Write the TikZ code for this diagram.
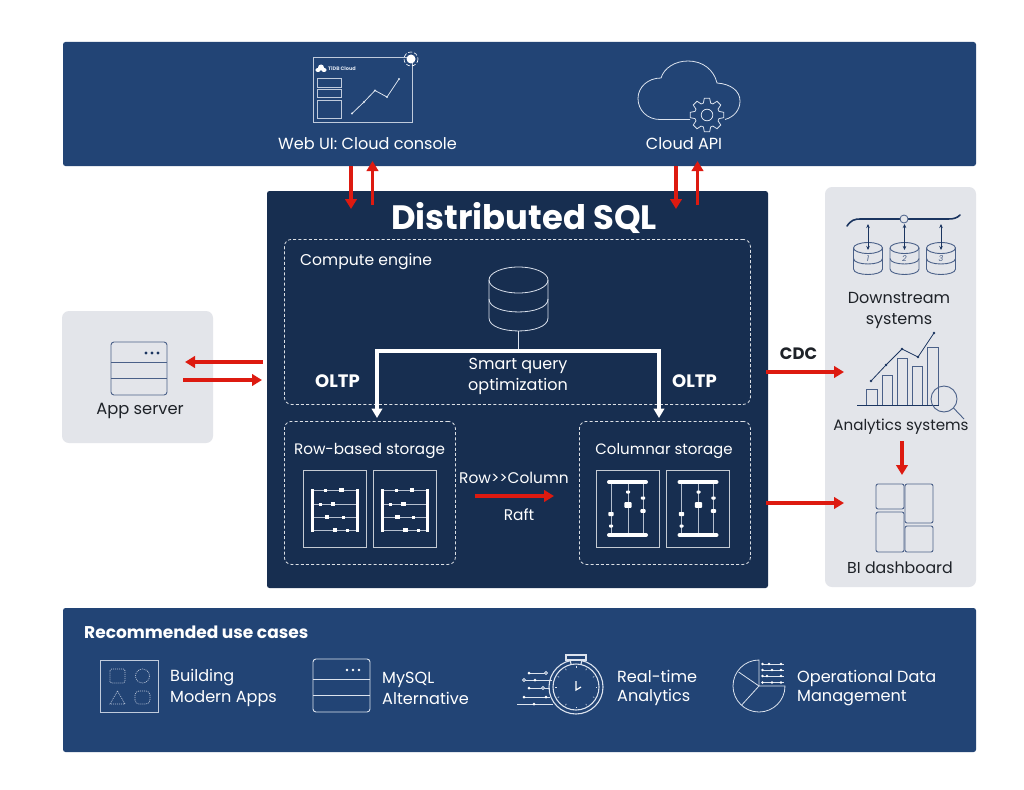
\documentclass[tikz,border=0pt]{standalone}
\usepackage{fontspec}
\setmainfont{Poppins}
\usetikzlibrary{arrows.meta}
\definecolor{band}{HTML}{224475}
\definecolor{deep}{HTML}{172E50}
\definecolor{pale}{HTML}{E3E5EA}
\definecolor{redarrow}{HTML}{DD1A10}
\definecolor{iconlight}{HTML}{DCE3EE}
\definecolor{icondark}{HTML}{4A6088}
\definecolor{inknavy}{HTML}{1B3560}
\definecolor{ink}{HTML}{1E2228}
\newcommand{\fs}[1]{\fontsize{#1}{#1}\selectfont}
\newcommand{\cylinder}[6]{% cx, cy, rx, ry, section, style
  \draw[#6] (#1,#2) ellipse [x radius=#3, y radius=#4];
  \draw[#6] ({#1-#3},#2) -- ({#1-#3},{#2+2*#5}) .. controls ({#1-#3},{#2+2*#5+1.33*#4}) and ({#1+#3},{#2+2*#5+1.33*#4}) .. ({#1+#3},{#2+2*#5}) -- ({#1+#3},#2);
  \draw[#6] ({#1-#3},{#2+#5}) .. controls ({#1-#3},{#2+#5+1.33*#4}) and ({#1+#3},{#2+#5+1.33*#4}) .. ({#1+#3},{#2+#5});
}
\newcommand{\serverbox}[5]{% x1,y1,x2,y2,style
  \draw[#5, rounded corners=3] (#1,#2) rectangle (#3,#4);
  \draw[#5] (#1,{#2+(#4-#2)*0.38}) -- (#3,{#2+(#4-#2)*0.38});
  \draw[#5] (#1,{#2+(#4-#2)*0.69}) -- (#3,{#2+(#4-#2)*0.69});
}
\tikzset{
  x=1pt,y=-1pt,
  panel/.style={anchor=north west,inner sep=0,outer sep=0,rounded corners=2.5,draw=none},
  grayp/.style={panel,fill=pale,rounded corners=7},
  dashbox/.style={anchor=north west,inner sep=0,draw=white!85!deep,line width=.8,rounded corners=7,dash pattern=on 3 off 2.2},
  card/.style={anchor=north west,inner sep=0,draw=white!75!deep,line width=1},
  redline/.style={draw=redarrow,line width=3.6,-{Triangle[length=10,width=11.5]}},
  whiteline/.style={draw=white,line width=3.6,-{Triangle[length=9.5,width=10.5]}},
  lt/.style={draw=iconlight,line width=.8},
  dk/.style={draw=icondark,line width=.9},
  lb/.style={inner sep=0,text=white,font=\fs{16.1},align=center},
  lbd/.style={inner sep=0,text=ink,font=\fs{16},align=center},
  lbl/.style={lb,anchor=west,align=left},
}
\begin{document}
\begin{tikzpicture}
\useasboundingbox (0,0) rectangle (1024,789);
\fill[white] (0,0) rectangle (1024,789);
% panels
\node[panel,fill=band,minimum width=913,minimum height=124] (top) at (63,42) {};
\node[panel,fill=band,minimum width=913,minimum height=144] (bottom) at (63,608) {};
\node[panel,fill=deep,minimum width=501,minimum height=397] (dsql) at (267,191) {};
\node[grayp,minimum width=151,minimum height=400] (right) at (825,187) {};
\node[grayp,minimum width=151,minimum height=132] (left) at (62,311) {};
\node[dashbox,minimum width=466,minimum height=165] (compute) at (284,239) {};
\node[dashbox,minimum width=171,minimum height=143] (rowb) at (284,421) {};
\node[dashbox,minimum width=171,minimum height=143] (colb) at (579,421) {};
\foreach \n/\x in {ra/303,rb/373,ca/596,cb/666}
  \node[card,minimum width=63,minimum height=77] (\n) at (\x,470) {};

% top labels
\node[lb] (weblabel) at (367.5,143.5) {Web UI: Cloud console};
\node[lb] (apilabel) at (684,143.5) {Cloud API};
% web console icon
\draw[draw=iconlight!85!band,line width=.9] (313,57) rectangle (412,122);
\foreach \y/\yy in {78/87,89/97.5,100/118}
  \draw[draw=iconlight!85!band,line width=.9] (317,\y) rectangle (341.5,\yy);
\fill[white] (318,70) ellipse [x radius=2.6,y radius=2] (324,70) ellipse [x radius=2.6,y radius=2] (321,67.5) circle (3);
\node[inner sep=0,text=iconlight,font=\fs{5}\bfseries,anchor=west] (tidb) at (328,68.5) {TiDB Cloud};
\draw[lt] (352,113.5) -- (364,102) -- (375,90.5) -- (387,97) -- (399,79);
\foreach \p in {(352,113.5),(364,102),(375,90.5),(387,97),(399,79)}
  \fill[iconlight] \p circle (1.2);
\fill[white] (411,59) circle (4.5);
\draw[white,line width=.6,dash pattern=on 4 off 2] (411,59) circle (7);
% cloud icon
\draw[lt] (690,119.5) -- (660,119.5) .. controls (647,119.5) and (638,110) .. (638,98.5) .. controls (638,87) and (648,78) .. (661,78) .. controls (664,68) and (675,61) .. (688,61) .. controls (703,61) and (714,70) .. (717,83) .. controls (731,84) and (740,91) .. (740,101) .. controls (740,110) and (734,117) .. (725,119.5);
\draw[lt,fill=band] (707,115) ++(0:0)
  \foreach \a in {0,45,...,315} { ({707+12.5*cos(\a-17)},{115+12.5*sin(\a-17)}) -- ({707+17*cos(\a-9)},{115+17*sin(\a-9)}) -- ({707+17*cos(\a+9)},{115+17*sin(\a+9)}) -- ({707+12.5*cos(\a+17)},{115+12.5*sin(\a+17)}) -- ({707+12.5*cos(\a+28)},{115+12.5*sin(\a+28)}) };
\draw[lt] (707,115) circle (5.8);

% title
\node[inner sep=0,text=white,font=\fs{33.8}\bfseries] (title) at (524,217.5) {Distributed SQL};
\node[lb,anchor=west,font=\fs{15.6}] (computelabel) at (300,262) {Compute engine};
% database
\cylinder{518.5}{280}{29.5}{13}{19}{draw=iconlight,line width=.8}
\coordinate (dbbase) at (518.5,331);
\coordinate (split) at (518.5,351);
\draw[draw=iconlight,line width=.8] (dbbase) -- (split);
\coordinate (wl) at (377,351);
\coordinate (wr) at (659,351);
\coordinate (rowin) at (377,418);
\coordinate (colin) at (659,418);
\draw[whiteline] (split) -- (wl) -- (rowin);
\draw[whiteline] (split) -- (wr) -- (colin);
\node[lb,font=\fs{16}] (smart) at (518,376.5) {Smart query\\[3.5pt]optimization};
\node[lb,font=\fs{18}\bfseries] (oltpa) at (337.5,381.5) {OLTP};
\node[lb,font=\fs{18}\bfseries] (oltpb) at (694.5,381.5) {OLTP};
% storage
\node[lb,font=\fs{15.2}] (rowlabel) at (369.5,451) {Row-based storage};
\node[lb,font=\fs{15}] (collabel) at (664,451) {Columnar storage};
\node[lb,font=\fs{15.4}] (r2c) at (514,478) {Row>{}>Column};
\node[lb,font=\fs{15.4}] (raft) at (519,515) {Raft};
% abacus icons
\foreach \dx in {0,70.5}{
 \begin{scope}[shift={(\dx,0)}]
  \foreach \y in {490,504,517,530} \draw[draw=iconlight!80!deep,line width=.9] (312,\y) -- (357,\y);
  \draw[white,line width=3] (312,489) -- (312,532);
  \draw[white,line width=3] (357,489) -- (357,532);
  \foreach \x/\y/\r in {325.5/490/1.5,341.5/490/2.4,320/504/1.5,333/504/2.4,327/517/2.4,343/517/1.5,335/530/2.4,347.5/530/1.5}
    \fill[white] ({\x-\r},{\y-\r}) rectangle ({\x+\r},{\y+\r});
 \end{scope}}
\foreach \dx in {0,70.5}{
 \begin{scope}[shift={(\dx,0)}]
  \foreach \x in {611,628,643} \draw[draw=iconlight!80!deep,line width=.9] (\x,482) -- (\x,535);
  \draw[white,line width=4,line cap=round] (609,482) -- (646,482);
  \draw[white,line width=4,line cap=round] (609,535) -- (646,535);
  \foreach \x/\y/\r/\s in {611/514/2.6/2,611/526/2/1.5,628/492/2/1.5,628/505/3.6/2.8,643/498/2.2/1.5,643/511/2.6/1.8}
    \fill[white,rounded corners=.8] ({\x-\r},{\y-\s}) rectangle ({\x+\r},{\y+\s});
 \end{scope}}

% app server
\serverbox{111}{342}{167}{395}{dk}
\foreach \x in {146,152,158} \fill[inknavy] (\x,353) circle (1.6);
\node[lbd,font=\fs{16.3}] (applabel) at (140,410.5) {App server};

% downstream
\draw[draw=inknavy,line width=1.6,line cap=round] (847,226) .. controls (851,220) and (855,219) .. (860,219) -- (948,219) .. controls (954,219) and (957,218) .. (960,215);
\fill[pale] (904,219) circle (4);
\draw[draw=icondark,line width=.8] (904,219) circle (4);
\foreach \cx/\n in {868/1,904.5/2,941/3}{
  \cylinder{\cx}{248}{14.5}{5.5}{10.5}{dk}
  \draw[draw=inknavy,line width=.7,{Stealth[length=4,width=3.5]}-{Stealth[length=4,width=3.5]}] (\cx,224) -- (\cx,250);
  \node[inner sep=0,text=icondark,font=\fs{8}\itshape] at (\cx,259) {\n};
}
\node[lbd,font=\fs{16}] (dslabel) at (899,310.5) {Downstream\\[4.5pt]systems};
% analytics
\foreach \a/\b/\t in {866/877/389,882/892/375,897/907/358,912/922/366,927/938/347}
  \draw[dk] (\a,405) -- (\a,\t) -- (\b,\t) -- (\b,405);
\draw[draw=inknavy,line width=.9] (857,405) -- (939,405);
\draw[draw=inknavy,line width=.8] (871,381) -- (886,365) -- (902,349) -- (918,357) -- (934,333);
\foreach \p in {(871,381),(886,365),(902,349),(918,357),(934,333)} \fill[inknavy] \p circle (1.3);
\draw[dk] (944,399) circle (13);
\draw[dk] (953.5,408) -- (964,419);
\node[lbd,font=\fs{15.1}] (anlabel) at (901,427) {Analytics systems};
% bi
\foreach \a/\b/\c/\d in {876/484/904/509,905/484/933/523,876/512/904/552,905/526/933/552}
  \draw[dk,rounded corners=2] (\a,\b) rectangle (\c,\d);
\node[lbd,font=\fs{15.8}] (bilabel) at (900,568) {BI dashboard};

% red arrows
\coordinate (a1) at (351,166); \coordinate (a2) at (351,209);
\coordinate (b1) at (372.5,205); \coordinate (b2) at (372.5,161);
\coordinate (c1) at (676,166); \coordinate (c2) at (676,209);
\coordinate (d1) at (697.5,205); \coordinate (d2) at (697.5,161);
\coordinate (e1) at (263,362); \coordinate (e2) at (185,362);
\coordinate (f1) at (183,380); \coordinate (f2) at (262,380);
\coordinate (g1) at (766,372); \coordinate (g2) at (844,372);
\coordinate (h1) at (766,503); \coordinate (h2) at (844,503);
\coordinate (i1) at (902,441); \coordinate (i2) at (902,475);
\coordinate (j1) at (475,496); \coordinate (j2) at (554,496);
\foreach \s/\t in {a1/a2,b1/b2,c1/c2,d1/d2,e1/e2,f1/f2,g1/g2,h1/h2,i1/i2,j1/j2}
  \draw[redline] (\s) -- (\t);
\node[inner sep=0,text=ink,font=\fs{16.5}\bfseries] (cdc) at (798.5,353.5) {CDC};

% bottom
\node[lb,anchor=west,font=\fs{17}\bfseries] (rec) at (84,632.5) {Recommended use cases};
\draw[draw=iconlight!85!band,line width=.9] (100,660) rectangle (158,712);
\begin{scope}[draw=iconlight!80!band,line width=.7,dash pattern=on 1 off 1]
 \draw[rounded corners=1.5] (110,669) rectangle (125,683);
 \draw (142.5,676) circle (7);
 \draw (117.5,691) -- (125,704) -- (110,704) -- cycle;
 \draw[rounded corners=4] (135,704) -- (135,691) -- (150,691) -- (150,704) -- cycle;
\end{scope}
\node[lbl] (t1) at (170,688) {Building\\[3.5pt]Modern Apps};
\serverbox{313}{659}{370}{712}{draw=iconlight,line width=.9}
\foreach \x in {347,353,359} \fill[white] (\x,670) circle (1.4);
\node[lbl] (t2) at (382,688) {MySQL\\[3.5pt]Alternative};
% stopwatch
\draw[lt,line width=1.1] (576,687) circle (27);
\draw[lt,line width=1.1] (576,687) circle (23);
\draw[lt,line width=1.1] (566,655) rectangle (586,660);
\draw[lt,line width=1.1] (570,660) -- (571,664) (582,660) -- (581,664);
\foreach \a in {0,30,...,330} \draw[draw=iconlight,line width=.6] ({576+21*cos(\a)},{687+21*sin(\a)}) -- ({576+19.5*cos(\a)},{687+19.5*sin(\a)});
\draw[white,line width=1.2] (576,681) -- (576,690) -- (581,687);
\draw[lt] (529,673) -- (546,673) (524,680) -- (552,680) (529,688) -- (550,688) (524,697) -- (550,697) (517,704) -- (553,704);
\foreach \p in {(529,673),(535,680),(529,688),(524,697),(546,697),(534,704)} \fill[white] \p circle (1.5);
\foreach \p in {(546,673),(524,680),(543,688)} \draw[lt,fill=band] \p circle (1.5);
\node[lbl] (t3) at (617,688) {Real-time\\[3.5pt]Analytics};
% pie
\draw[lt] (759,660) .. controls (744.6,660) and (733,671.6) .. (733,686) .. controls (733,700.4) and (744.6,712) .. (759,712) .. controls (773.4,712) and (785,700.4) .. (785,686) -- (759,686) -- cycle;
\draw[lt] (759,686) -- (738.6,672) (759,686) -- (741.7,705);
\foreach \y/\a/\b in {664/769/781,670/772/781,676/767/781,682.5/772/781}{
  \draw[lt] (762,\y) -- (784,\y);
  \fill[white] (\a,\y) circle (1.3);
  \fill[white] (\b,\y) circle (1.3);
  \fill[white] (762.5,\y) circle (1.3);
}
\node[lbl] (t4) at (797,688) {Operational Data\\[3.5pt]Management};
\end{tikzpicture}
\end{document}
